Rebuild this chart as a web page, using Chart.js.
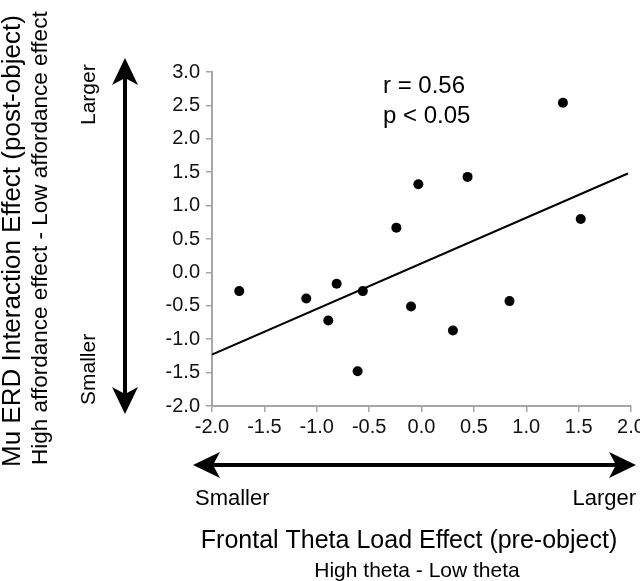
<html>
    <body style="margin:0;background:#fff;">
        <canvas id="myChart" width="640" height="581"></canvas>

        <script src="https://cdn.jsdelivr.net/npm/chart.js"></script>
        <script>
            // values (one point per subject)
            var thetaX = [-1.74, -1.10, -0.81, -0.89, -0.56, -0.61, -0.24, -0.03, -0.10, 0.44, 0.30, 0.84, 1.35, 1.52];
            var muY    = [-0.28, -0.39, -0.17, -0.72, -0.28, -1.48, 0.67, 1.32, -0.51, 1.43, -0.87, -0.43, 2.54, 0.80];
            // regression line end points
            var fitX = [-2.0, 1.97];
            var fitY = [-1.23, 1.48];
            var statsText = ["r = 0.56", "p < 0.05"];

            var font = "'Liberation Sans', Arial, sans-serif";
            var axisGray = "#a6a6a6";

            function pts(xs, ys) {
                var out = [];
                for (var i = 0; i < xs.length; i++) out.push({x: xs[i], y: ys[i]});
                return out;
            }

            function arrowHead(ctx, tx, ty, dx, dy) {
                // barbed arrow head, (dx,dy) = unit direction of the tip
                var len = 27, half = 13, notch = 7;
                var px = -dy, py = dx;
                ctx.beginPath();
                ctx.moveTo(tx, ty);
                ctx.lineTo(tx - dx * len + px * half, ty - dy * len + py * half);
                ctx.lineTo(tx - dx * (len - notch), ty - dy * (len - notch));
                ctx.lineTo(tx - dx * len - px * half, ty - dy * len - py * half);
                ctx.closePath();
                ctx.fill();
            }

            var decorations = {
                id: "decorations",
                afterDraw: function (chart) {
                    var ctx = chart.ctx;
                    var x = chart.scales.x, y = chart.scales.y;
                    ctx.save();
                    ctx.fillStyle = "#000";
                    ctx.strokeStyle = "#000";

                    // stats
                    ctx.font = "24px " + font;
                    ctx.textAlign = "left";
                    ctx.textBaseline = "alphabetic";
                    ctx.fillText(statsText[0], 383, 93);
                    ctx.fillText(statsText[1], 383, 123);

                    // vertical arrow
                    ctx.lineWidth = 4;
                    ctx.beginPath();
                    ctx.moveTo(125, 75);
                    ctx.lineTo(125, 398);
                    ctx.stroke();
                    arrowHead(ctx, 125, 58, 0, -1);
                    arrowHead(ctx, 125, 414, 0, 1);

                    // horizontal arrow
                    ctx.beginPath();
                    ctx.moveTo(208, 465);
                    ctx.lineTo(620, 465);
                    ctx.stroke();
                    arrowHead(ctx, 193, 465, -1, 0);
                    arrowHead(ctx, 636, 465, 1, 0);

                    // bottom labels
                    ctx.font = "22px " + font;
                    ctx.textAlign = "left";
                    ctx.fillText("Smaller", 195, 505);
                    ctx.textAlign = "right";
                    ctx.fillText("Larger", 636, 505);

                    ctx.textAlign = "center";
                    ctx.font = "25px " + font;
                    ctx.fillText("Frontal Theta Load Effect (pre-object)", 409, 548);
                    ctx.font = "21px " + font;
                    ctx.fillText("High theta - Low theta", 417, 577);

                    // rotated labels on the left
                    function vText(str, bx, by, size) {
                        ctx.save();
                        ctx.translate(bx, by);
                        ctx.rotate(-Math.PI / 2);
                        ctx.font = size + "px " + font;
                        ctx.textAlign = "left";
                        ctx.textBaseline = "alphabetic";
                        ctx.fillText(str, 0, 0);
                        ctx.restore();
                    }
                    vText("Mu ERD Interaction Effect (post-object)", 20, 467, 26);
                    vText("High affordance effect - Low affordance effect", 47, 465, 22.5);
                    vText("Larger", 95, 125, 21);
                    vText("Smaller", 95, 405, 21);

                    ctx.restore();
                }
            };

            var ctx = document.getElementById("myChart").getContext("2d");
            var myChart = new Chart(ctx, {
                data: {
                    datasets: [
                        {
                            type: "line",
                            label: "fit",
                            data: pts(fitX, fitY),
                            borderColor: "#000",
                            borderWidth: 2,
                            pointRadius: 0,
                            fill: false
                        },
                        {
                            type: "scatter",
                            label: "subjects",
                            data: pts(thetaX, muY),
                            backgroundColor: "#000",
                            borderColor: "#000",
                            pointRadius: 5,
                            pointBorderWidth: 0
                        }
                    ]
                },
                options: {
                    responsive: false,
                    animation: false,
                    layout: { padding: { left: 0, right: 9, top: 72, bottom: 0 } },
                    plugins: { legend: { display: false }, tooltip: { enabled: false } },
                    scales: {
                        x: {
                            type: "linear",
                            min: -2, max: 2,
                            border: { color: axisGray, width: 2 },
                            grid: { drawOnChartArea: false, drawTicks: true, tickLength: 6, color: axisGray, lineWidth: 1.5 },
                            ticks: {
                                stepSize: 0.5, color: "#111", padding: 3,
                                font: { family: font, size: 20 },
                                maxRotation: 0,
                                callback: function (v) { return v.toFixed(1); }
                            },
                            afterFit: function (scale) {
                                scale.height = 175;
                                scale.paddingLeft = 0;
                                scale.paddingRight = 0;
                            }
                        },
                        y: {
                            type: "linear",
                            min: -2, max: 3,
                            border: { color: axisGray, width: 2 },
                            grid: { drawOnChartArea: false, drawTicks: true, tickLength: 6, color: axisGray, lineWidth: 1.5 },
                            ticks: {
                                stepSize: 0.5, color: "#111", padding: 6,
                                font: { family: font, size: 20 },
                                callback: function (v) { return v.toFixed(1); }
                            },
                            afterFit: function (scale) {
                                scale.width = 212;
                            }
                        }
                    }
                },
                plugins: [decorations]
            });
        </script>
    </body>
</html>
